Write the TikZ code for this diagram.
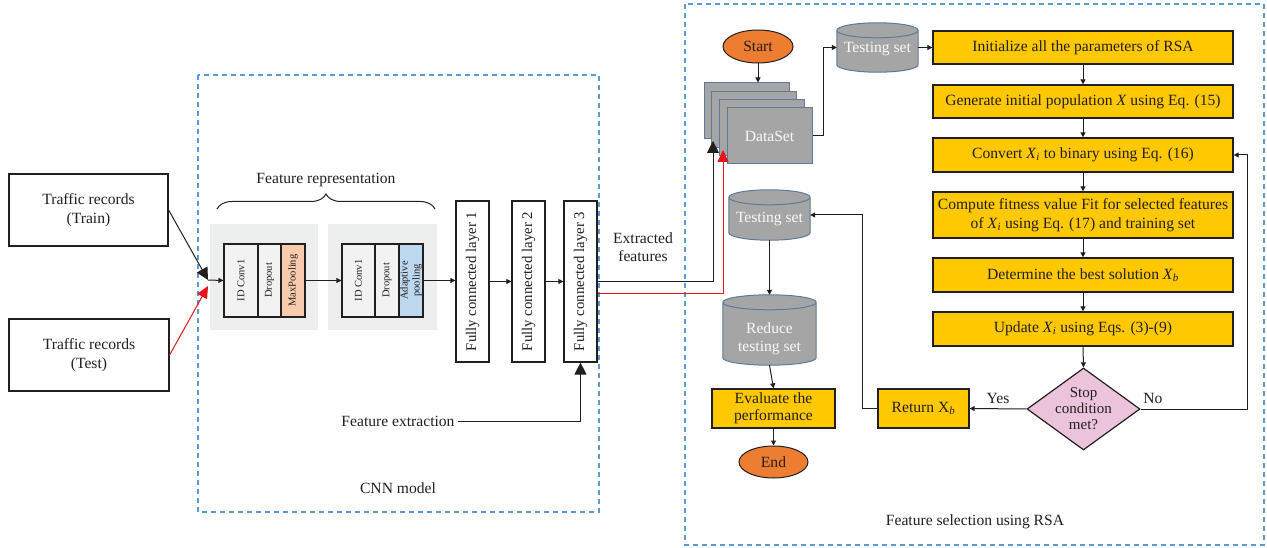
\documentclass[tikz,border=0pt]{standalone}
\usepackage{fontspec}
\setmainfont{Liberation Serif}
\usetikzlibrary{shapes.geometric,arrows.meta,calc,decorations.pathreplacing,backgrounds}
\definecolor{ink}{HTML}{231F20}
\definecolor{yel}{HTML}{FFC800}
\definecolor{orng}{HTML}{ED7D31}
\definecolor{pnk}{HTML}{EBC4DC}
\definecolor{peach}{HTML}{F8CBAD}
\definecolor{lblue}{HTML}{BDD7EE}
\definecolor{panelgray}{HTML}{EDEEEE}
\definecolor{layergray}{HTML}{F2F2F2}
\definecolor{cylgray}{HTML}{A5A5A5}
\definecolor{cylborder}{HTML}{5F7A98}
\definecolor{dashblue}{HTML}{5B9BD5}
\definecolor{redline}{HTML}{E8141B}
\newcommand\xsub[1]{\textit{X}\textsubscript{\textit{#1}}}
\newcommand\drawcyl[1]{%
  \path[draw=cylborder, fill=cylgray, line width=1pt]
    let \p1=(#1.north west), \p2=(#1.south east), \n1={(\x2-\x1)/2} in
    (\x1,\y1-7.5pt) -- (\x1,\y2+7.5pt)
      arc[start angle=180, end angle=360, x radius=\n1, y radius=7.5pt]
      -- (\x2,\y1-7.5pt)
      arc[start angle=0, end angle=180, x radius=\n1, y radius=7.5pt] -- cycle
    (\x1,\y1-7.5pt) arc[start angle=180, end angle=360, x radius=\n1, y radius=7.5pt];}
\tikzset{
  every node/.style={font=\fontsize{15.6}{18.5}\selectfont, text=ink},
  wbox/.style={draw=ink, line width=1.2pt, inner sep=0pt, align=center, fill=white},
  ybox/.style={draw=ink, fill=yel, line width=1.3pt, minimum width=300pt, inner sep=0pt, align=center},
  layerbox/.style={draw=ink, line width=1.1pt, fill=layergray, minimum height=73pt, inner sep=0pt},
  fcbox/.style={draw=ink, line width=1.2pt, fill=white, minimum width=33pt, minimum height=161pt, inner sep=0pt},
  fclab/.style={rotate=90, font=\fontsize{14.8}{17}\selectfont},
  panel/.style={fill=panelgray, minimum height=106pt, inner sep=0pt},
  stackbox/.style={draw=cylborder, fill=cylgray, line width=1pt, minimum width=85pt, minimum height=56pt, inner sep=0pt},
  cylnode/.style={inner sep=0pt},
  oval/.style={ellipse, draw=ink, fill=orng, line width=1pt, inner sep=0pt},
  conn/.style={draw=ink, line width=1pt, -{Triangle[length=5pt,width=5pt]}},
  bigconn/.style={draw=ink, line width=1pt, -{Triangle[length=12pt,width=12pt]}},
  redconn/.style={draw=redline, line width=1pt, -{Triangle[length=12pt,width=11pt]}},
  dashframe/.style={draw=dashblue, line width=1.1pt, dash pattern=on 5pt off 4pt},
  small/.style={font=\fontsize{10.5}{12}\selectfont},
  wtext/.style={text=white!95!gray}
}
\begin{document}
\begin{tikzpicture}[x=1pt,y=-1pt]
\useasboundingbox (0,0) rectangle (1267,548);
% frames
\draw[dashframe] (198,75) rectangle (599,512);
\draw[dashframe] (685,4) rectangle (1264,545);
\node (cnnlab) at (398,488) {CNN model};
\node (rsalab) at (975,522) {Feature selection using RSA};

% inputs
\node[wbox, minimum width=159pt, minimum height=72pt] (train) at (88.5,210) {Traffic records\\(Train)};
\node[wbox, minimum width=160pt, minimum height=72pt] (test) at (89,355) {Traffic records\\(Test)};

% feature representation
\node (frep) at (326,180) {Feature representation};
\draw[ink, line width=1pt, decorate, decoration={brace, amplitude=15pt}] (217,209) -- (435,209);
\node[panel, minimum width=108pt] (pan1) at (264,277) {};
\node[panel, minimum width=109pt] (pan2) at (382.5,277) {};
\node[layerbox, minimum width=34pt, label={[small, rotate=90]center:ID Conv1}] (cnv1) at (241,280.5) {};
\node[layerbox, minimum width=23pt, label={[small, rotate=90]center:Dropout}] (drp1) at (269.5,280.5) {};
\node[layerbox, minimum width=24pt, fill=peach, label={[small, rotate=90]center:MaxPooling}] (mxp) at (293,280.5) {};
\node[layerbox, minimum width=33pt, label={[small, rotate=90]center:ID Conv1}] (cnv2) at (358.5,280.5) {};
\node[layerbox, minimum width=24pt, label={[small, rotate=90]center:Dropout}] (drp2) at (387,280.5) {};
\node[layerbox, minimum width=24pt, fill=lblue, label={[small, rotate=90, align=center]center:Adaptive\\pooling}] (adp) at (411,280.5) {};

% fully connected
\node[fcbox, label={[fclab]center:Fully connected layer 1}] (fc1) at (472.5,281.5) {};
\node[fcbox, label={[fclab]center:Fully connected layer 2}] (fc2) at (528.5,281.5) {};
\node[fcbox, label={[fclab]center:Fully connected layer 3}] (fc3) at (580.5,281.5) {};
\node (fext) at (398,421) {Feature extraction};
\node[align=center] (extf) at (643,247) {Extracted\\features};

% input connectors
\coordinate (m1) at (208,280);
\coordinate (m2) at (208,286);
\draw[bigconn] (train.east) -- (m1);
\draw[redconn] (test.east) -- (m2);
\draw[conn] (m1) -- (cnv1.west);
\draw[conn] (mxp.east) -- (cnv2.west);
\draw[conn] (adp.east) -- (adp.east -| fc1.west);
\draw[conn] (fc1.east) -- (fc2.west);
\draw[conn] (fc2.east) -- (fc3.west);
\draw[bigconn] (fext.east) -- (fext.east -| fc3.south) -- (fc3.south);

% RSA side
\node[oval, minimum width=70pt, minimum height=33pt] (start) at (758,46.5) {Start};
\node[stackbox] (ds1) at (746.5,111) {};
\node[stackbox] (ds2) at (754.2,119.3) {};
\node[stackbox] (ds3) at (761.8,127.6) {};
\node[stackbox, label={[wtext]center:DataSet}] (ds4) at (769.5,136) {};
\coordinate (din1) at (713,141);
\coordinate (din2) at (723,150);
\draw[bigconn] (fc3.east) -| (din1);
\draw[redconn] ([yshift=-12pt]fc3.east) -| (din2);
\draw[conn] (start.south) -- (start.south |- ds1.north);

\node[cylnode, minimum width=81pt, minimum height=49pt, label={[wtext, yshift=-2pt]center:Testing set}] (ts1) at (877.5,47.5) {};
\node[cylnode, minimum width=81pt, minimum height=50pt, label={[wtext, yshift=-4pt]center:Testing set}] (ts2) at (769.5,215) {};
\node[cylnode, minimum width=93pt, minimum height=70pt, label={[wtext, yshift=-9pt, align=center]center:Reduce\\testing set}] (rts) at (769.5,330) {};
\begin{scope}[on background layer]
\drawcyl{ts1}
\drawcyl{ts2}
\drawcyl{rts}
\end{scope}

\node[ybox, minimum height=33pt] (init) at (1083,47.5) {Initialize all the parameters of RSA};
\node[ybox, minimum height=33pt] (gen) at (1083,101.5) {Generate initial population \textit{X} using Eq. (15)};
\node[ybox, minimum height=34pt] (cvt) at (1083,155) {Convert \xsub{i} to binary using Eq. (16)};
\node[ybox, minimum height=46pt] (comp) at (1083,215) {Compute fitness value Fit for selected features\\of \xsub{i} using Eq. (17) and training set};
\node[ybox, minimum height=34pt] (det) at (1083,275) {Determine the best solution \xsub{b}};
\node[ybox, minimum height=34pt] (upd) at (1083,329) {Update \xsub{i} using Eqs. (3)-(9)};
\node[diamond, draw=ink, fill=pnk, line width=1.2pt, inner sep=0pt, minimum width=113pt, minimum height=82pt,
      label={[align=center, font=\fontsize{15}{16}\selectfont]center:Stop\\condition\\met?}] (dia) at (1083.5,409) {};
\node[ybox, minimum width=91pt, minimum height=39pt] (ret) at (923.5,408.5) {Return X\textsubscript{\textit{b}}};
\node[ybox, minimum width=123pt, minimum height=39pt, font=\fontsize{15.6}{17}\selectfont] (eval) at (773.5,408.5) {Evaluate the\\performance};
\node[oval, minimum width=69pt, minimum height=32pt] (endn) at (773.5,462) {End};
\node (yes) at (998,398) {Yes};
\node (no) at (1153,398) {No};

\draw[conn] (ds4.east) -- ++(11,0) |- (ts1.west);
\draw[conn] (ts1.east) -- (init.west);
\draw[conn] (init.south) -- (gen.north);
\draw[conn] (gen.south) -- (cvt.north);
\draw[conn] (cvt.south) -- (comp.north);
\draw[conn] (comp.south) -- (det.north);
\draw[conn] (det.south) -- (upd.north);
\draw[conn] (upd.south) -- (dia.north);
\draw[conn] (dia.east) -- ++(107,0) |- (cvt.east);
\draw[conn] (dia.west) -- (ret.east);
\draw[conn] (ret.west) -- ++(-15,0) |- (ts2.east);
\draw[conn] (ts2.south) -- (rts.north);
\draw[conn] (rts.south) -- (eval.north);
\draw[conn] (eval.south) -- (endn.north);
\end{tikzpicture}
\end{document}
